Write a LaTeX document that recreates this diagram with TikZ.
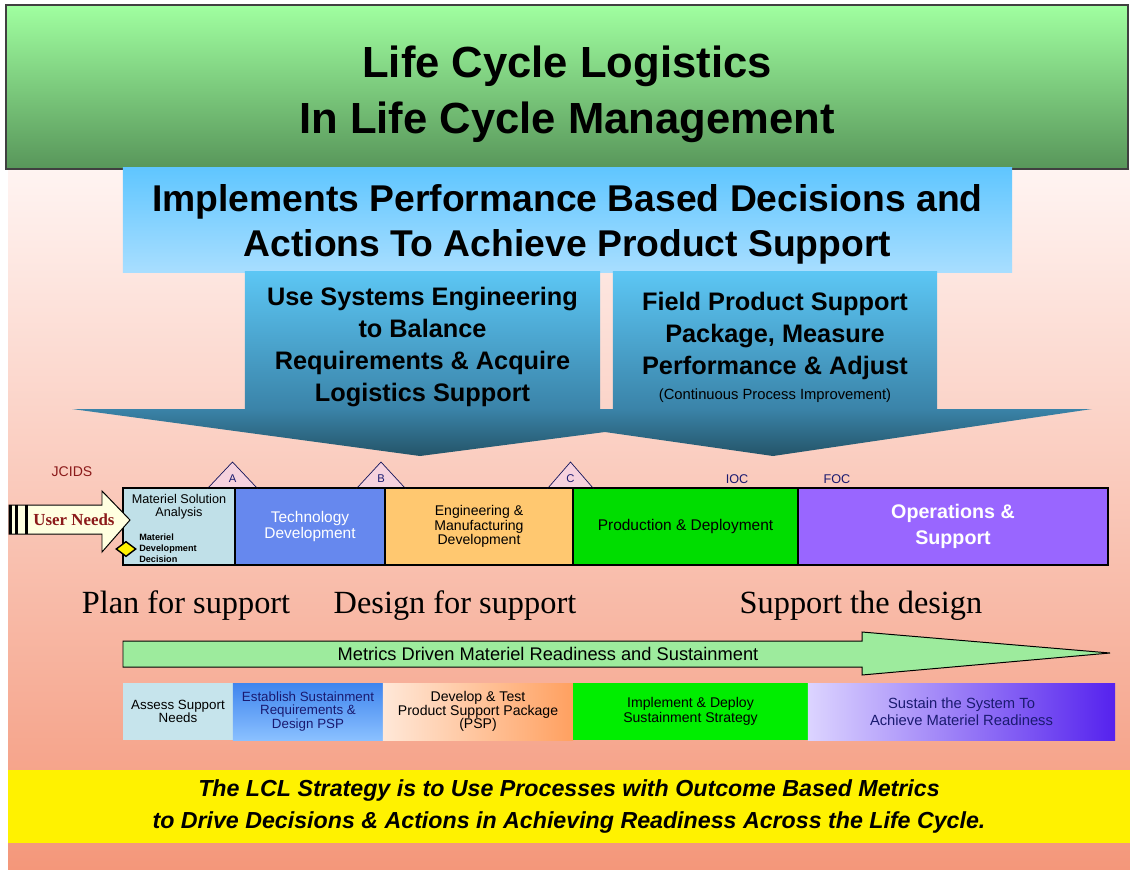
\documentclass[tikz,border=0pt]{standalone}
\usepackage{fontspec}
\setmainfont{Liberation Serif}
\setsansfont{Liberation Sans}
\usepackage{tikz}
\usetikzlibrary{shapes.geometric}

\definecolor{bgtop}{HTML}{FFF4F2}
\definecolor{bgmid}{HTML}{F9C4B6}
\definecolor{bgbot}{HTML}{F4977A}
\definecolor{titletop}{HTML}{A0FFA0}
\definecolor{titlebot}{HTML}{58965A}
\definecolor{goaltop}{HTML}{60C6FF}
\definecolor{goalbot}{HTML}{A8DEFF}
\definecolor{coltop}{HTML}{5CC6F4}
\definecolor{colbot}{HTML}{3A83A8}
\definecolor{arrowbot}{HTML}{245468}
\definecolor{msafill}{HTML}{C0E0E8}
\definecolor{tdfill}{HTML}{6688EE}
\definecolor{emdfill}{HTML}{FFC870}
\definecolor{pdfill}{HTML}{00DD00}
\definecolor{osfill}{HTML}{9966FF}
\definecolor{mstonefill}{HTML}{F6D2DE}
\definecolor{navytext}{HTML}{1A1A70}
\definecolor{darkred}{HTML}{8B1A1A}
\definecolor{needfill}{HTML}{FFFFE0}
\definecolor{metricfill}{HTML}{9DEB9D}
\definecolor{asnfill}{HTML}{C6E4EC}
\definecolor{esrtop}{HTML}{3F85EE}
\definecolor{esrbot}{HTML}{8AC0FF}
\definecolor{dtpleft}{HTML}{FFE8D8}
\definecolor{dtpright}{HTML}{FFA060}
\definecolor{idsfill}{HTML}{00EE00}
\definecolor{ssaleft}{HTML}{DCD4FF}
\definecolor{ssaright}{HTML}{5522EE}

\begin{document}
\begin{tikzpicture}[x=0.025cm, y=-0.025cm,
        phase/.style={draw=black, line width=0.8pt, minimum height=1.925cm,
          inner sep=1pt, align=center, font=\sffamily\fontsize{11}{12}\selectfont},
        task/.style={minimum height=1.425cm, inner sep=1pt, align=center,
          font=\sffamily\fontsize{9.5}{9.6}\selectfont},
        column/.style={top color=coltop, bottom color=colbot, minimum height=3.45cm,
          inner sep=0pt, align=center, font=\sffamily\bfseries\fontsize{18}{22.8}\selectfont},
        mstone/.style={draw=navytext!80!black, fill=mstonefill, line width=0.5pt},
        mlabel/.style={text=navytext, inner sep=0pt, font=\sffamily\fontsize{8}{8}\selectfont},
        motto/.style={inner sep=0pt, font=\rmfamily\fontsize{23}{24}\selectfont}]

        \useasboundingbox (0,0) rectangle (1130,869);
        \fill[white] (0,0) rectangle (1130,869);
        \shade[top color=bgtop, middle color=bgmid, bottom color=bgbot] (8,168) rectangle (1130,869);

        % heading
        \node[draw=black!75, line width=1.2pt, top color=titletop, bottom color=titlebot,
          minimum width=28.05cm, minimum height=4.1cm, align=center,
          font=\sffamily\bfseries\fontsize{31}{40}\selectfont] (title) at (567,87)
          {\rule{0pt}{33pt}Life Cycle Logistics\\In Life Cycle Management};

        \node[top color=goaltop, bottom color=goalbot, minimum width=22.225cm, minimum height=2.6cm,
          align=center, font=\sffamily\bfseries\fontsize{26.5}{32}\selectfont] (goal) at (567.5,220)
          {\rule{0pt}{26pt}Implements Performance Based Decisions and\\Actions To Achieve Product Support};

        % the two down arrows
        \node[column, minimum width=8.875cm] (engcol) at (422.5,341)
          {\rule{0pt}{21.5pt}Use Systems Engineering\\to Balance\\Requirements \& Acquire\\Logistics Support};
        \node[column, minimum width=8.1cm] (fieldcol) at (775,341)
          {\rule{0pt}{21.5pt}Field Product Support\\Package, Measure\\Performance \& Adjust\\[-5pt]
          {\mdseries\fontsize{10.5}{13}\selectfont (Continuous Process Improvement)}};
        \shade[top color=colbot, bottom color=arrowbot]
          (72,409) -- (1092,409) -- (773,456) -- (605,432) -- (420,456) -- cycle;

        % acquisition phases
        \node[phase, fill=msafill, minimum width=2.8cm] (msa) at (179,526.5) {};
        \node[phase, fill=tdfill, text=white, minimum width=3.75cm] (td) at (310,526.5)
          {Technology\\Development};
        \node[phase, fill=emdfill, minimum width=4.7cm, font=\sffamily\fontsize{10}{9}\selectfont]
          (emd) at (479,526.5) {Engineering \&\\Manufacturing\\Development};
        \node[phase, fill=pdfill, minimum width=5.625cm] (pd) at (685.5,526.5)
          {Production \& Deployment};
        \node[phase, fill=osfill, text=white, minimum width=7.75cm,
          font=\sffamily\bfseries\fontsize{14}{18}\selectfont] (os) at (953,526.5)
          {Operations \&\\Support};

        \node[align=center, inner sep=0pt, font=\sffamily\fontsize{9}{9.5}\selectfont]
          (msatext) at (179,507) {Materiel Solution\\Analysis};
        \node[align=left, anchor=west, inner sep=0pt, font=\sffamily\bfseries\fontsize{6.5}{7.8}\selectfont]
          (mddtext) at (139,548) {Materiel\\Development\\Decision};
        \node[diamond, draw=black, line width=1pt, fill=yellow, minimum width=0.5cm,
          minimum height=0.38cm, inner sep=0pt] (mdd) at (126,549) {};

        % milestones
        \foreach \m/\xa/\xb in {A/208/257, B/357/405, C/548/593} {
          \draw[mstone] (\xa,488) -- ({(\xa+\xb)/2},462) -- (\xb,488) -- cycle;
          \draw[line width=1.4pt] (\xa,488) -- (\xb,488);
          \node[mlabel] (ms\m) at ({(\xa+\xb)/2},478.5) {\m};
        }
        \node[mlabel, font=\sffamily\fontsize{9}{9}\selectfont] (ioc) at (737,479) {IOC};
        \node[mlabel, font=\sffamily\fontsize{9}{9}\selectfont] (foc) at (837,479) {FOC};
        \node[text=darkred, inner sep=0pt, font=\sffamily\fontsize{10}{10}\selectfont] (jcids) at (72,472) {JCIDS};

        % user needs
        \draw[fill=needfill, line width=0.7pt]
          (9,505) -- (102,505) -- (102,491) -- (130,520) -- (102,552) -- (102,534) -- (9,534) -- cycle;
        \fill[black] (9,505) rectangle (12,534);
        \fill[black] (15,505) rectangle (18,534);
        \fill[black] (25,505) rectangle (28,534);
        \node[text=darkred, inner sep=0pt, font=\rmfamily\bfseries\fontsize{12}{12}\selectfont]
          (needs) at (74,520) {User Needs};

        % support mottos
        \node[motto] (plan) at (186,606) {Plan for support};
        \node[motto] (design) at (455,606) {Design for support};
        \node[motto] (supp) at (861,606) {Support the design};

        \draw[fill=metricfill, line width=0.7pt]
          (123,641) -- (862,641) -- (862,632) -- (1110,653) -- (862,675) -- (862,667) -- (123,667) -- cycle;
        \node[inner sep=0pt, font=\sffamily\fontsize{13}{13}\selectfont] (metrics) at (548,654)
          {Metrics Driven Materiel Readiness and Sustainment};

        % support activities
        \node[task, fill=asnfill, minimum width=2.75cm] (assess) at (178,711.5)
          {Assess Support\\Needs};
        \node[task, top color=esrtop, bottom color=esrbot, text=navytext, minimum width=3.75cm]
          (establish) at (308,711.5) {Establish Sustainment\\Requirements \&\\Design PSP};
        \node[task, left color=dtpleft, right color=dtpright, minimum width=4.75cm,
          font=\sffamily\fontsize{10}{9.6}\selectfont] (develop) at (478,711.5)
          {Develop \& Test\\Product Support Package\\(PSP)};
        \node[task, fill=idsfill, minimum width=5.875cm, font=\sffamily\fontsize{10}{11}\selectfont]
          (implement) at (690.5,711.5) {Implement \& Deploy\\Sustainment Strategy};
        \node[task, left color=ssaleft, right color=ssaright, text=navytext, minimum width=7.675cm,
          font=\sffamily\fontsize{10.5}{12}\selectfont] (sustain) at (961.5,711.5)
          {Sustain the System To\\Achieve Materiel Readiness};

        % strategy band
        \node[fill=yellow, minimum width=28.05cm, minimum height=1.825cm, align=center,
          font=\sffamily\bfseries\itshape\fontsize{16.5}{23}\selectfont] (strategy) at (569,806.5)
          {The LCL Strategy is to Use Processes with Outcome Based Metrics\\
          to Drive Decisions \& Actions in Achieving Readiness Across the Life Cycle.};
    \end{tikzpicture}
\end{document}
